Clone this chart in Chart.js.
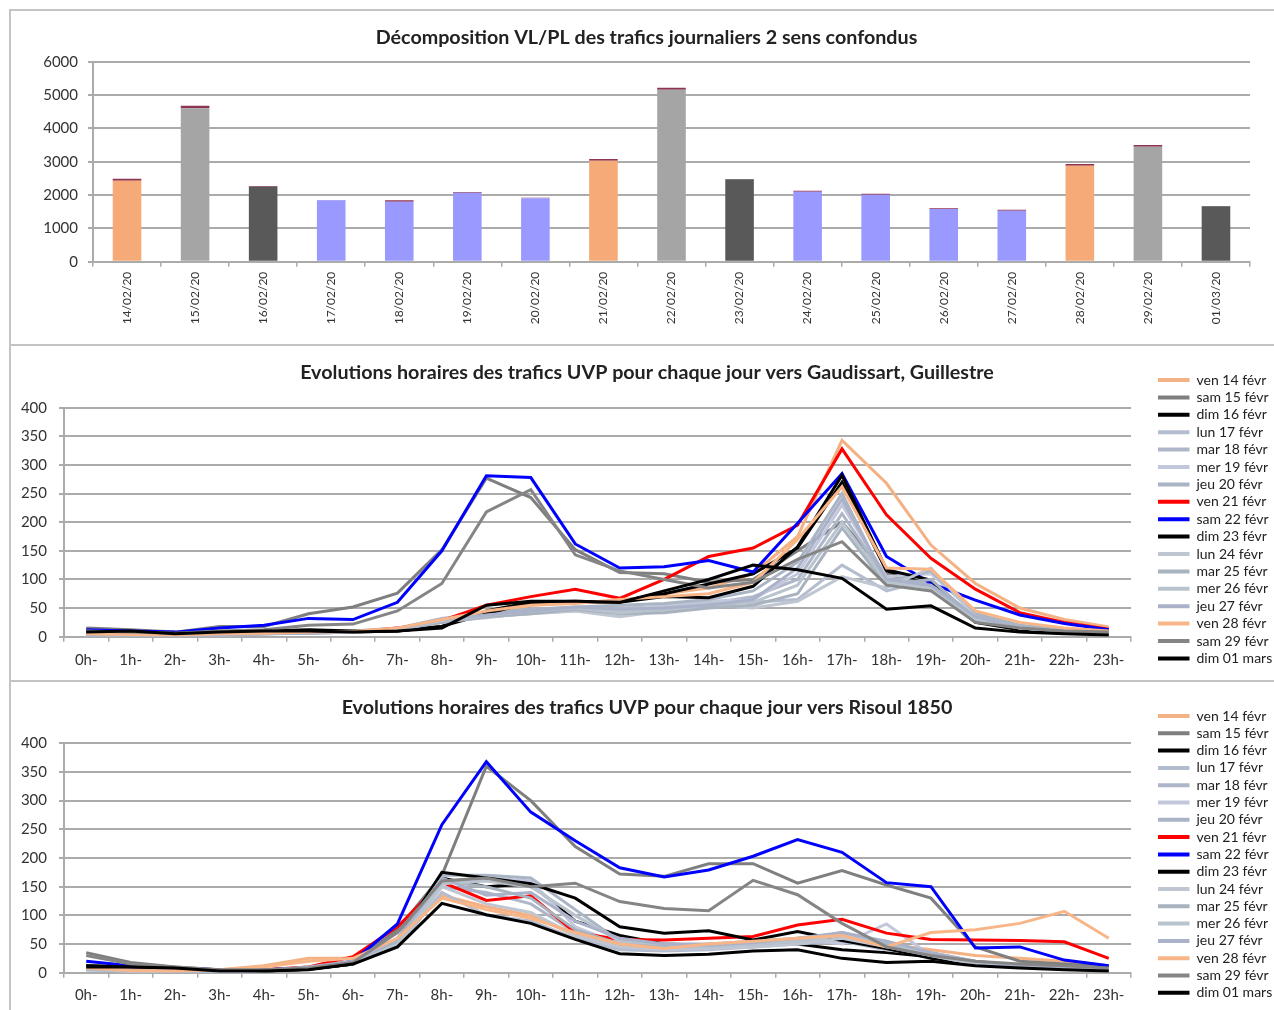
<!DOCTYPE html>
<html><head><meta charset="utf-8">
<script src="https://cdn.jsdelivr.net/npm/chart.js@4.4.1/dist/chart.umd.min.js"></script>
<style>
html,body{margin:0;padding:0;background:#fff;}
body{width:1274px;height:1010px;position:relative;overflow:hidden;}
.box{position:absolute;}
.ln{position:absolute;background:#C4C4C4;}
</style></head><body>
<div class="ln" style="left:9px;top:9px;width:1265px;height:2px"></div>
<div class="ln" style="left:9px;top:9px;width:2px;height:1001px"></div>
<div class="ln" style="left:9px;top:344px;width:1265px;height:2px"></div>
<div class="ln" style="left:9px;top:680px;width:1265px;height:2px"></div>
<div class="box" style="left:11px;top:11px;width:1263px;height:333px"><canvas id="c1"></canvas></div>
<div class="box" style="left:11px;top:346px;width:1263px;height:334px"><canvas id="c2"></canvas></div>
<div class="box" style="left:11px;top:682px;width:1263px;height:328px"><canvas id="c3"></canvas></div>
<script>
// ---------- DATA ----------
const dates = ['14/02/20','15/02/20','16/02/20','17/02/20','18/02/20','19/02/20','20/02/20','21/02/20','22/02/20','23/02/20','24/02/20','25/02/20','26/02/20','27/02/20','28/02/20','29/02/20','01/03/20'];
const vlTraffic = [2430,4600,2250,1840,1800,2070,1900,3030,5160,2470,2100,2010,1580,1530,2880,3450,1660];
const plTraffic = [60,80,20,10,40,20,20,50,60,10,30,30,20,30,50,50,10];
const yTicksDaily = [0,1000,2000,3000,4000,5000,6000];

const hours = ['0h-','1h-','2h-','3h-','4h-','5h-','6h-','7h-','8h-','9h-','10h-','11h-','12h-','13h-','14h-','15h-','16h-','17h-','18h-','19h-','20h-','21h-','22h-','23h-'];
const seriesNames = ['ven 14 févr','sam 15 févr','dim 16 févr','lun 17 févr','mar 18 févr','mer 19 févr','jeu 20 févr','ven 21 févr','sam 22 févr','dim 23 févr','lun 24 févr','mar 25 févr','mer 26 févr','jeu 27 févr','ven 28 févr','sam 29 févr','dim 01 mars'];
const yTicksHourly = [0,50,100,150,200,250,300,350,400];

const gaudissartValues = [
  [5,4,3,5,6,8,8,12,25,40,55,60,60,75,85,110,175,343,268,160,93,50,30,17],
  [15,12,8,18,18,40,52,76,152,277,243,152,112,110,95,100,150,200,110,85,30,18,12,10],
  [8,8,5,8,10,10,8,10,18,45,60,60,62,75,92,110,155,270,115,90,25,12,8,5],
  [4,3,2,3,5,8,8,12,25,35,40,45,45,50,55,60,65,125,80,100,30,15,10,6],
  [3,2,2,3,5,6,8,12,28,38,45,48,50,52,58,70,100,215,100,95,35,15,10,7],
  [3,3,2,3,5,7,9,14,30,40,48,50,45,55,62,65,110,230,105,110,40,18,12,8],
  [4,3,2,4,6,8,10,15,32,42,48,52,55,58,65,80,130,250,95,115,40,20,12,8],
  [8,5,5,5,8,10,8,15,28,55,70,83,67,100,140,155,195,328,213,137,83,42,25,13],
  [12,10,8,15,20,32,30,60,150,281,278,162,120,122,133,113,198,285,140,93,64,38,23,12],
  [8,8,6,8,10,12,10,10,18,40,60,62,60,70,68,88,157,282,117,99,29,12,8,5],
  [4,3,2,3,5,7,9,13,26,33,42,45,35,45,55,50,62,105,85,120,35,15,10,8],
  [3,3,2,3,5,6,8,12,25,35,40,48,40,42,50,55,75,190,90,100,30,15,10,7],
  [4,3,2,4,5,7,8,13,28,37,45,50,42,48,58,60,90,200,95,85,30,15,10,6],
  [3,3,2,3,5,6,8,14,30,38,45,52,48,50,55,65,120,240,100,90,35,15,10,7],
  [5,4,3,5,6,8,9,15,30,45,55,58,65,70,75,95,170,262,120,118,45,25,15,10],
  [10,8,6,10,12,20,22,45,93,218,257,143,115,100,85,95,135,166,90,80,25,15,10,8],
  [8,10,5,8,10,10,8,10,15,55,62,62,60,80,100,125,117,102,48,54,15,8,5,3]
];

const risoulValues = [
  [8,3,3,5,12,25,25,55,135,115,100,65,45,40,45,48,55,70,50,40,30,25,20,12],
  [35,18,10,5,5,8,18,75,170,360,300,220,172,168,190,190,156,178,153,130,45,20,15,10],
  [12,10,8,3,3,6,15,55,165,150,155,90,65,50,48,52,50,40,35,28,15,10,8,5],
  [5,3,2,2,3,8,15,45,140,100,90,60,40,38,40,45,50,55,40,30,15,10,8,5],
  [6,4,3,2,4,10,18,55,150,140,120,70,45,42,45,48,55,60,45,35,18,12,8,5],
  [5,3,2,2,4,8,16,50,160,165,160,80,50,45,50,45,60,50,85,30,15,10,8,5],
  [7,5,3,2,4,10,20,60,170,170,165,110,55,50,50,55,60,65,50,35,20,12,8,5],
  [10,8,5,3,5,10,28,80,158,126,134,70,58,57,60,63,83,93,69,58,57,56,54,25],
  [20,12,8,5,5,8,20,85,258,368,280,230,183,167,179,203,232,210,157,150,43,45,22,12],
  [12,10,8,3,3,6,15,55,175,165,155,130,80,69,73,57,72,56,42,25,15,12,10,5],
  [5,3,2,2,3,8,15,45,150,120,105,65,45,40,42,45,50,60,45,30,15,10,8,5],
  [6,4,3,2,4,9,17,55,160,150,130,75,50,45,48,50,55,70,50,35,18,12,8,5],
  [5,3,2,2,4,8,16,50,155,160,150,100,55,50,45,50,55,65,55,30,15,10,8,5],
  [7,5,3,2,4,10,20,58,165,135,140,90,60,50,48,52,60,70,55,35,20,12,8,5],
  [8,4,3,5,10,20,25,60,130,110,95,70,50,42,50,55,60,65,45,70,75,86,107,60],
  [30,15,10,5,5,8,18,70,160,165,150,156,124,112,108,161,136,86,45,30,20,15,12,8],
  [10,10,8,3,3,5,15,45,121,101,86,58,33,30,32,38,40,25,18,20,12,8,5,3]
];

// ---------- STYLE ----------
const lineColors = ['#F4B183','#7F7F7F','#000000','#B4BDD0','#AEB7C9','#C3C7DC','#A9B4C4','#FF0000','#0000FF','#000000','#BFC6D2','#A9B3BF','#B8C3CE','#AAB2CA','#F8B587','#858585','#000000'];
const GRID = '#ABABAB';
const TITLE_SIZE = 19.7;
Chart.defaults.font.family = 'Lato, "Liberation Sans", sans-serif';
Chart.defaults.color = '#333';
Chart.defaults.animation = false;

function dayColor(d) {
  const p = d.split('/').map(Number);
  const wd = new Date(2000 + p[2], p[1] - 1, p[0]).getDay();
  return wd === 5 ? '#F5AA78' : wd === 6 ? '#A5A5A5' : wd === 0 ? '#595959' : '#9999FF';
}
const plain = v => String(v);

new Chart(document.getElementById('c1'), {
  type: 'bar',
  data: { labels: dates, datasets: [
    { label: 'VL', data: vlTraffic, backgroundColor: dates.map(dayColor), barPercentage: 0.42, categoryPercentage: 1 },
    { label: 'PL', data: plTraffic, backgroundColor: '#8E3550', barPercentage: 0.42, categoryPercentage: 1 }
  ]},
  options: {
    responsive: true, maintainAspectRatio: false, animation: false,
    layout: { padding: { left: 32, right: 24, top: 0, bottom: 0 } },
    plugins: {
      legend: { display: false }, tooltip: { enabled: false },
      title: { display: true, text: 'Décomposition VL/PL des trafics journaliers 2 sens confondus', font: { size: TITLE_SIZE, weight: 'bold' }, color: '#222', padding: { top: 15.18, bottom: 11.88 } }
    },
    scales: {
      x: { stacked: true, grid: { drawOnChartArea: false, tickLength: 5, color: GRID, lineWidth: 1.5 }, border: { color: GRID, width: 2 },
           ticks: { minRotation: 90, maxRotation: 90, font: { size: 12 }, padding: 5, autoSkip: false },
           afterFit: s => { s.height = 82.3; } },
      y: { stacked: true, min: 0, max: 6000, afterBuildTicks: s => { s.ticks = yTicksDaily.map(v => ({ value: v })); },
           ticks: { font: { size: 15 }, padding: 10, callback: plain }, grid: { color: GRID, lineWidth: 2, tickLength: 5 }, border: { color: GRID, width: 2 },
           afterFit: s => { s.width = 50; } }
    }
  }
});

function lineChart(id, title, values, cfg) {
  new Chart(document.getElementById(id), {
    type: 'line',
    data: { labels: hours, datasets: seriesNames.map((n, i) => ({
      label: n, data: values[i], borderColor: lineColors[i], backgroundColor: lineColors[i],
      borderWidth: 3, pointRadius: 0, tension: 0, fill: false, order: seriesNames.length - i
    })) },
    options: {
      responsive: true, maintainAspectRatio: false, animation: false,
      layout: { padding: { left: 9, right: 0, top: 0, bottom: cfg.pb } },
      plugins: {
        tooltip: { enabled: false },
        title: { display: true, text: title, font: { size: TITLE_SIZE, weight: 'bold' }, color: '#222', padding: { top: cfg.tt, bottom: cfg.tb } },
        legend: { position: 'right', align: 'end', reverse: true, maxWidth: cfg.lw,
          labels: { boxWidth: 31.5, boxHeight: 4, padding: cfg.lp, font: { size: 14 }, color: '#222',
            generateLabels: c => Chart.defaults.plugins.legend.labels.generateLabels(c).map(l => Object.assign(l, { lineWidth: 0 })) } }
      },
      scales: {
        x: { offset: true, grid: { offset: true, drawOnChartArea: false, tickLength: 5, color: GRID, lineWidth: 1.5 }, border: { color: GRID, width: 2 },
             ticks: { font: { size: 15 }, padding: cfg.xp, maxRotation: 0, autoSkip: false },
             afterFit: s => { s.height = cfg.hx; } },
        y: { min: 0, max: 400, afterBuildTicks: s => { s.ticks = yTicksHourly.map(v => ({ value: v })); },
             ticks: { font: { size: 15 }, padding: 12, callback: plain }, grid: { color: GRID, lineWidth: 2, tickLength: 5 }, border: { color: GRID, width: 2 },
             afterFit: s => { s.width = 44; } },
        g: { position: 'right', display: true, grid: { display: false }, border: { display: false }, ticks: { display: false },
             afterFit: s => { s.width = cfg.gw; } }
      }
    }
  });
}

lineChart('c2', 'Evolutions horaires des trafics UVP pour chaque jour vers Gaudissart, Guillestre', gaudissartValues,
  { pb: 11.2, hx: 32.1, tt: 15.18, tb: 22.88, lp: 3.4, lw: 119.4, gw: 23.6, xp: 9.3 });
lineChart('c3', 'Evolutions horaires des trafics UVP pour chaque jour vers Risoul 1850', risoulValues,
  { pb: 6.9, hx: 30.4, tt: 14.18, tb: 23.48, lp: 3.3, lw: 119.3, gw: 23.7, xp: 8.3 });
</script>
</body></html>
